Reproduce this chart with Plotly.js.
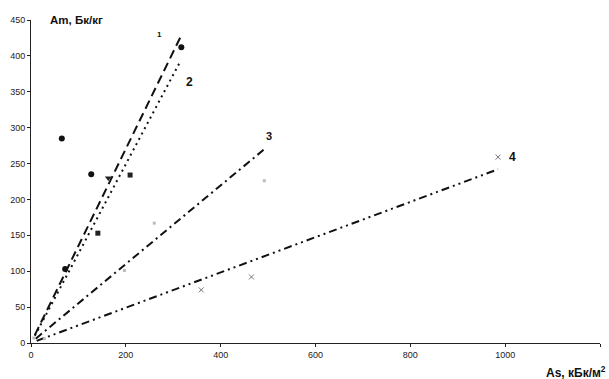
<!DOCTYPE html>
<html>
<head>
<meta charset="utf-8">
<script src="https://cdn.plot.ly/plotly-3.0.1.min.js"></script>
<style>html,body{margin:0;padding:0;background:#fff;}#chart{width:609px;height:379px;}</style>
</head>
<body>
<div id="chart"></div>
<script>
// Regression lines (As, Am endpoints)
const line1As = [8, 318];   const line1Am = [11, 430];
const line2As = [8, 313];   const line2Am = [10, 390];
const line3As = [10, 492];  const line3Am = [6, 270];
const line4As = [12, 985];  const line4Am = [3, 242];

// Measured points
const dotAs = [317, 65, 127, 72];      const dotAm = [412, 285, 235, 103];
const squareAs = [209, 141];           const squareAm = [234, 153];
const triAs = [163];                   const triAm = [230];
const crossAs = [359, 465, 985];       const crossAm = [74, 92, 259];
const faintAs = [197, 260, 492, 6, 28]; const faintAm = [101, 167, 226, 7, 6];

// Line labels
const labelText = ['1', '2', '3', '4'];
const labelAs = [262, 323, 492, 1003];
const labelAm = [430, 364, 288, 259];
const labelSize = [8, 12, 11, 12];

const xTicks = [0, 200, 400, 600, 800, 1000, 1200];
const yTicks = [0, 50, 100, 150, 200, 250, 300, 350, 400, 450];

const traces = [
  {x: line1As, y: line1Am, mode: 'lines', line: {color: '#111', width: 2, dash: '9px,5px'}},
  {x: line2As, y: line2Am, mode: 'lines', line: {color: '#111', width: 2, dash: '2px,4px'}},
  {x: line3As, y: line3Am, mode: 'lines', line: {color: '#111', width: 2, dash: '8px,4px,2px,4px'}},
  {x: line4As, y: line4Am, mode: 'lines', line: {color: '#111', width: 2, dash: '8px,4px,2px,4px,2px,4px'}},
  {x: dotAs, y: dotAm, mode: 'markers', marker: {symbol: 'circle', size: 6, color: '#111'}},
  {x: squareAs, y: squareAm, mode: 'markers', marker: {symbol: 'square', size: 5, color: '#222'}},
  {x: triAs, y: triAm, mode: 'markers', marker: {symbol: 'triangle-down', size: 6, color: '#222'}},
  {x: crossAs, y: crossAm, mode: 'markers', marker: {symbol: 'x-thin', size: 5, line: {color: '#777', width: 1}}},
  {x: faintAs, y: faintAm, mode: 'markers', marker: {symbol: 'square', size: 3, color: '#bbb'}}
];

const annotations = labelText.map((t, i) => ({
  x: labelAs[i], y: labelAm[i], xref: 'x', yref: 'y', text: t, showarrow: false,
  font: {family: 'Arial, Liberation Sans', size: labelSize[i], color: '#111', weight: 'bold'},
  xanchor: 'left', yanchor: 'middle'
}));
annotations.push({
  xref: 'paper', yref: 'paper', x: 0.03, y: 1, xanchor: 'left', yanchor: 'middle',
  text: '<b>Am, Бк/кг</b>', showarrow: false,
  font: {family: 'Arial, Liberation Sans', size: 11.5, color: '#111'}
});
annotations.push({
  xref: 'paper', yref: 'paper', x: 1.014, y: -0.09, xanchor: 'right', yanchor: 'middle',
  text: '<b>As, кБк/м<sup>2</sup></b>', showarrow: false,
  font: {family: 'Arial, Liberation Sans', size: 12, color: '#111'}
});

const layout = {
  width: 609, height: 379,
  margin: {l: 31, r: 9, t: 20, b: 36},
  paper_bgcolor: '#fff', plot_bgcolor: '#fff',
  showlegend: false,
  font: {family: 'Arial, Liberation Sans', size: 9, color: '#222'},
  xaxis: {
    range: [0, 1200], tickvals: xTicks, ticktext: xTicks.map(String),
    showgrid: false, zeroline: false, showline: true, linecolor: '#222', linewidth: 1,
    ticks: 'outside', ticklen: 3, tickcolor: '#222', tickfont: {size: 9}
  },
  yaxis: {
    range: [0, 450], tickvals: yTicks, ticktext: yTicks.map(String),
    showgrid: false, zeroline: false, showline: true, linecolor: '#222', linewidth: 1,
    ticks: 'outside', ticklen: 3, tickcolor: '#222', tickfont: {size: 9}
  },
  annotations: annotations
};

Plotly.newPlot('chart', traces, layout, {displayModeBar: false, staticPlot: true});
</script>
</body>
</html>
